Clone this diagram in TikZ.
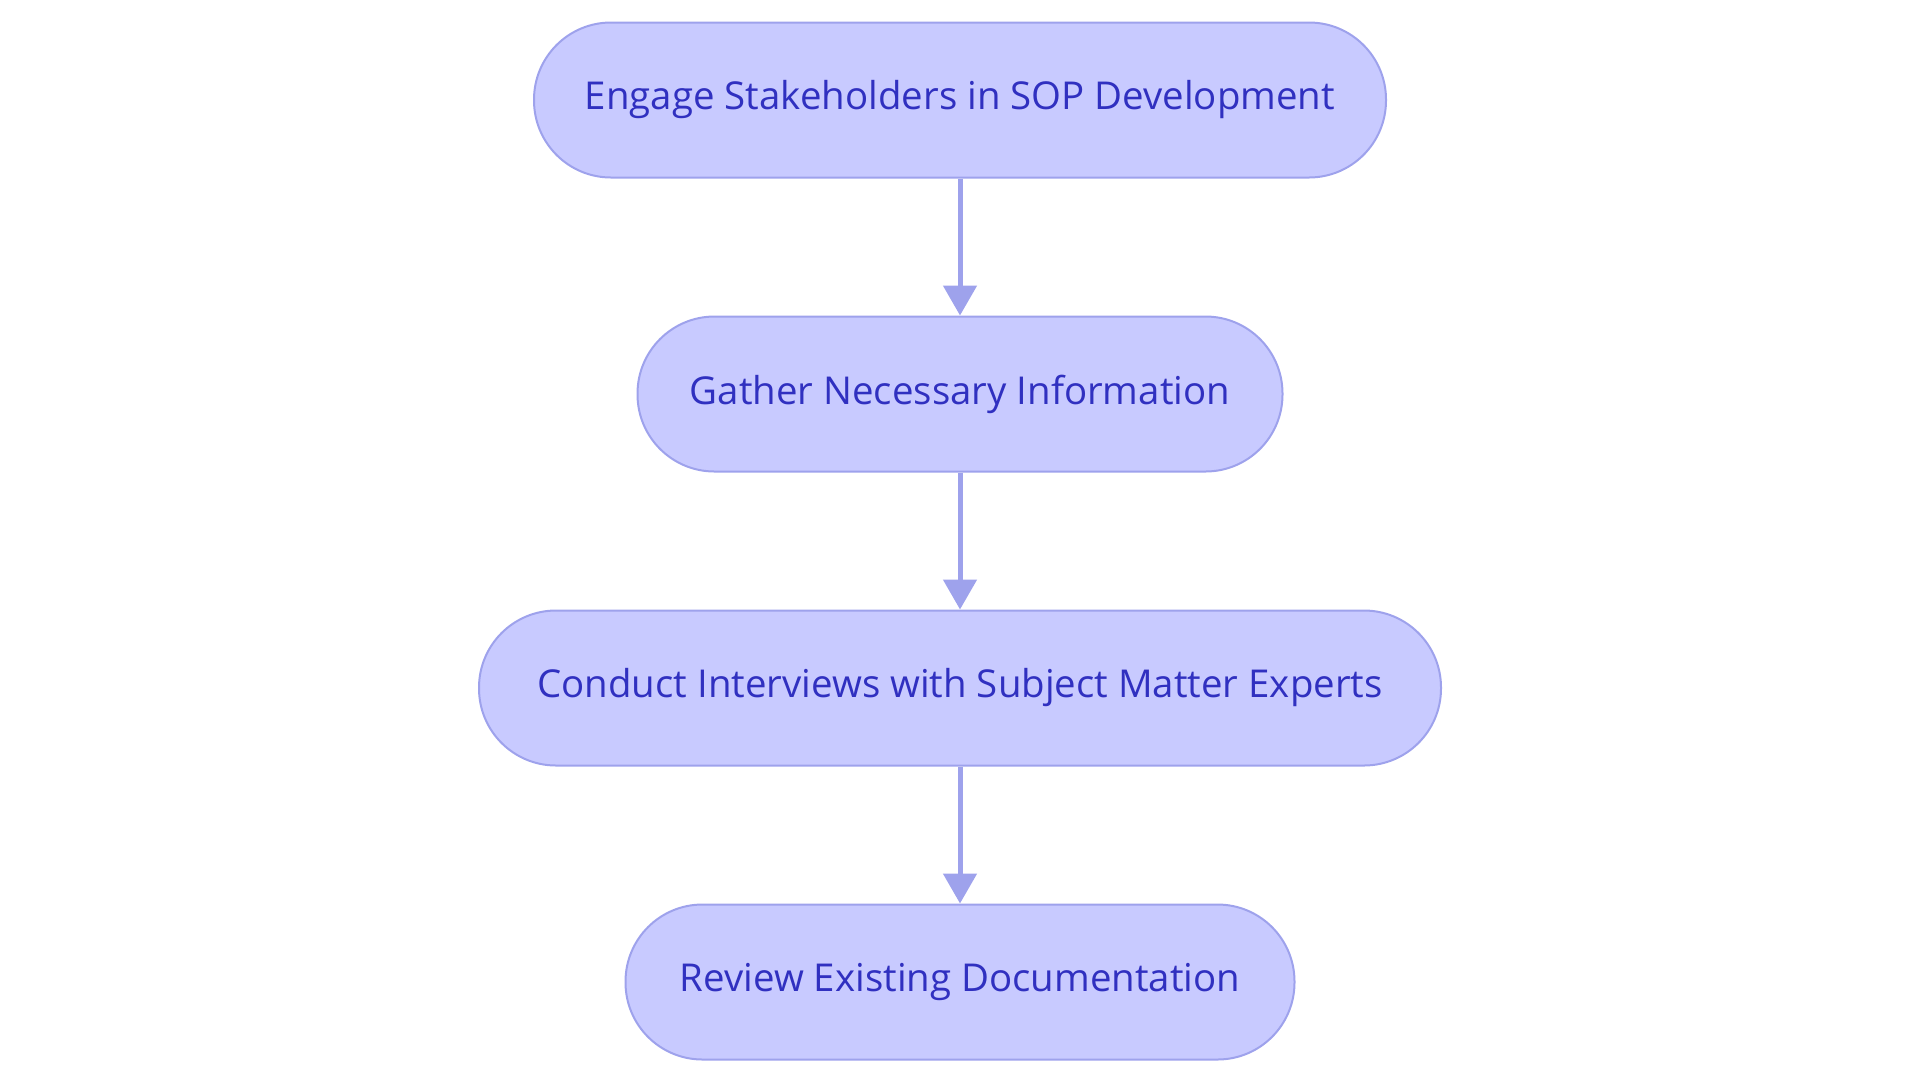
\documentclass[tikz,border=0pt]{standalone}
\usepackage{fontspec}
\setsansfont{Open Sans}
\usetikzlibrary{positioning,arrows.meta}
\definecolor{boxfill}{HTML}{C8CAFF}
\definecolor{boxline}{HTML}{9EA2EC}
\definecolor{boxtext}{HTML}{3030C0}
\begin{document}
\begin{tikzpicture}[font={\sffamily\fontsize{19.2pt}{23pt}\selectfont},
    step box/.style={draw=boxline, line width=1pt, fill=boxfill, text=boxtext,
        rounded corners=38.5pt, minimum height=77.5pt, inner sep=0pt},
    flow/.style={draw=boxline, line width=2.5pt, -{Triangle[width=16.5pt,length=15pt]}}]
    \useasboundingbox (0,0) rectangle (960pt,-541.5pt);
    \node [step box, minimum width=426pt] (engage) at (480pt,-50pt) {Engage Stakeholders in SOP Development};
    \node [step box, minimum width=322.5pt, below=68.5pt of engage] (gather) {Gather Necessary Information};
    \node [step box, minimum width=481pt, below=68.5pt of gather] (interview) {Conduct Interviews with Subject Matter Experts};
    \node [step box, minimum width=334.5pt, below=68.5pt of interview] (review) {Review Existing Documentation};
    \draw [flow] (engage) -- (gather);
    \draw [flow] (gather) -- (interview);
    \draw [flow] (interview) -- (review);
\end{tikzpicture}
\end{document}
